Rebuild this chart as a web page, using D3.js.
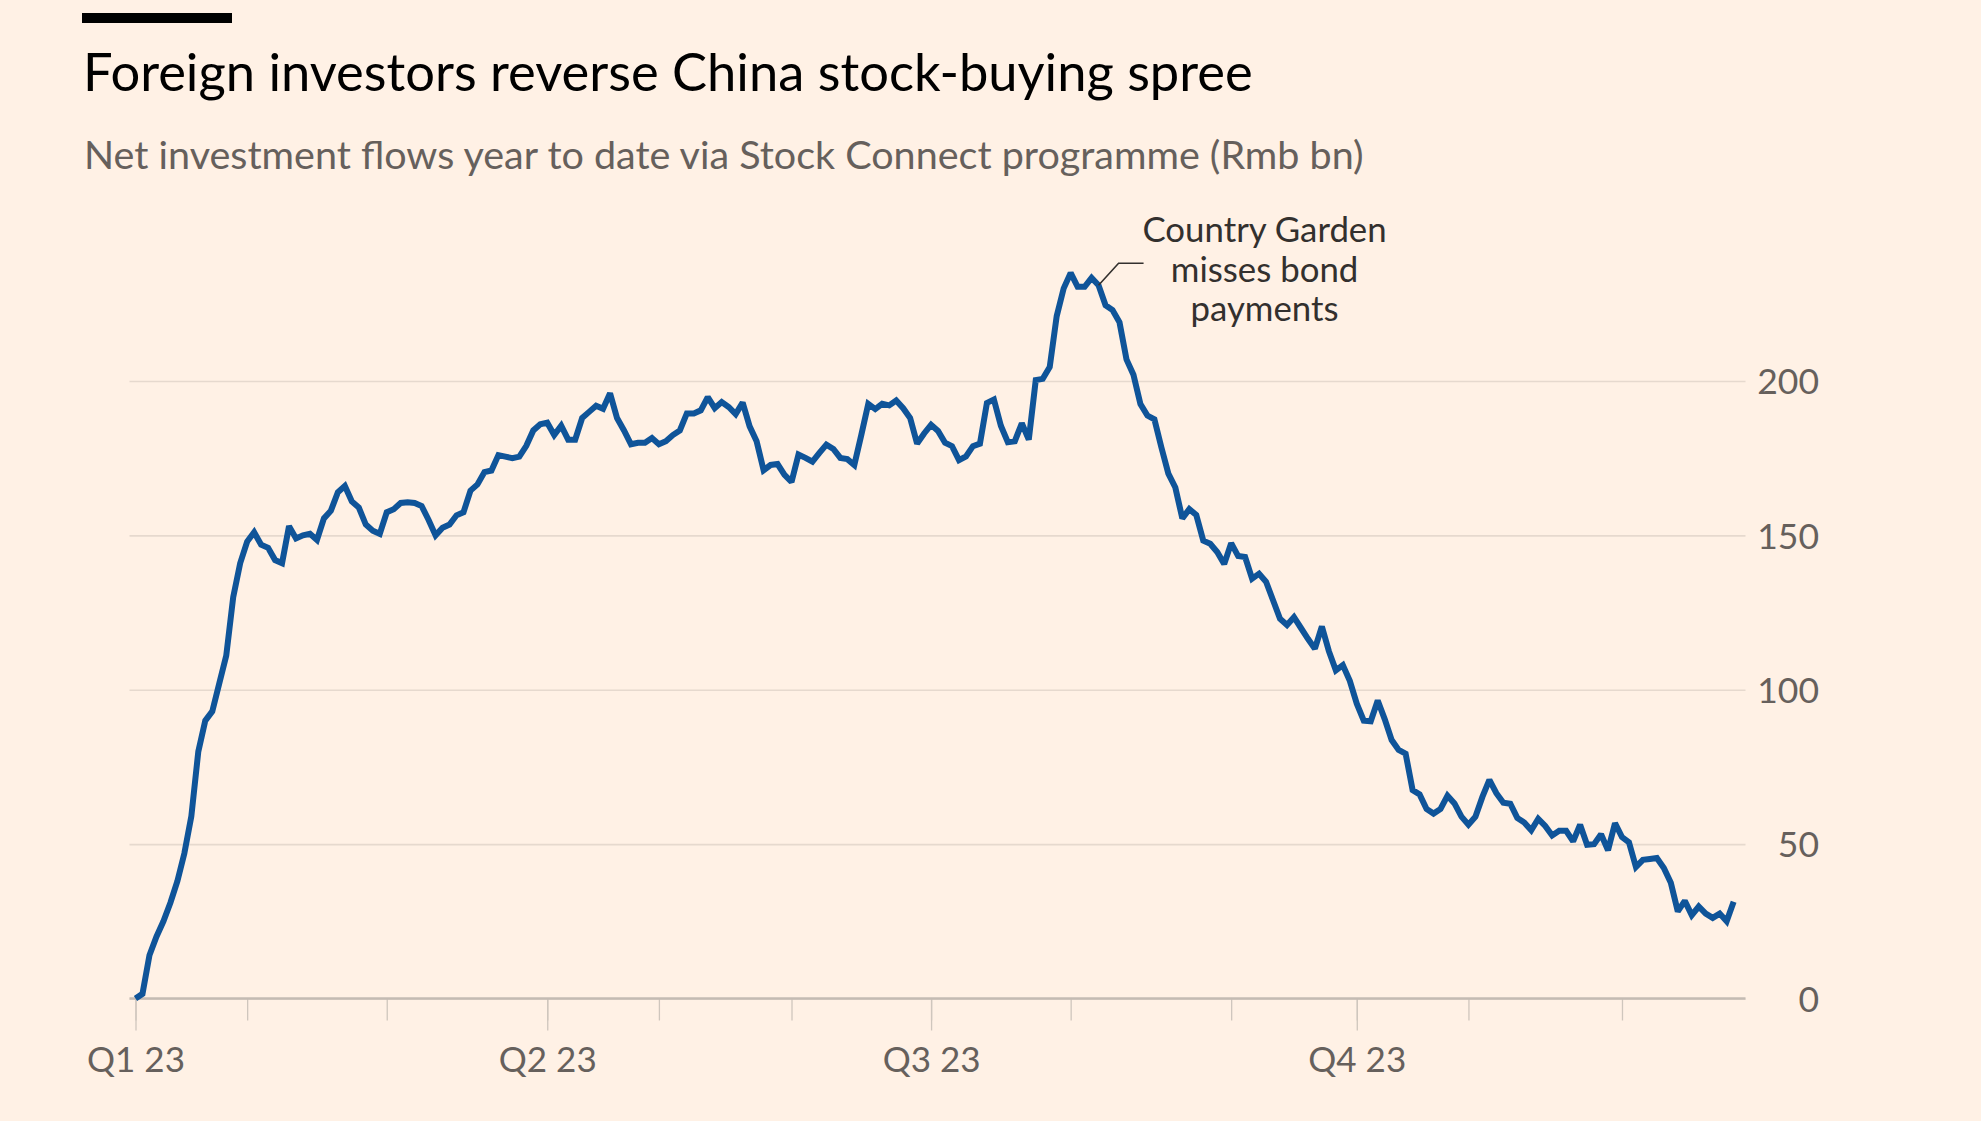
<!DOCTYPE html>
<html><head><meta charset="utf-8">
<script src="https://cdn.jsdelivr.net/npm/d3@7"></script>
<style>
html,body{margin:0;padding:0;background:#fff1e5;}
svg{display:block;}
</style></head><body>
<svg id="chart" width="1981" height="1121"></svg>
<script>
const titleText = "Foreign investors reverse China stock-buying spree";
const subtitleText = "Net investment flows year to date via Stock Connect programme (Rmb bn)";
const annotationLines = ["Country Garden", "misses bond", "payments"];
const annotationIndex = 138;
const annotationValue = 231;
// trading-day index of the first session of each month (Jan..Dec 2023)
const monthStartIndex = [0, 16, 36, 59, 75, 94, 114, 134, 157, 175, 191, 213];
const quarterTickIndex = [0, 59, 114, 175];
const quarterLabels = ["Q1 23", "Q2 23", "Q3 23", "Q4 23"];
const yTickValues = [0, 50, 100, 150, 200];
// cumulative net flows, Rmb bn, one value per trading day
const flows = [
  0, 1.5, 14, 20, 25, 31, 38, 47, 59, 80,
  90, 93, 102, 111, 130, 141, 148, 151, 147, 146,
  142, 141, 153, 149, 150, 150.5, 148.5, 155.5, 158, 164,
  166, 161, 159, 153.5, 151.5, 150.5, 157.5, 158.5, 160.5, 160.7,
  160.5, 159.5, 155, 150, 152.5, 153.5, 156.5, 157.5, 164.5, 166.5,
  170.5, 171, 176, 175.5, 175, 175.5, 179, 184, 186, 186.5,
  182.5, 185.5, 181, 181, 188, 190, 192, 191, 196, 188,
  184, 179.5, 180, 180, 181.5, 179.5, 180.5, 182.5, 184, 189.5,
  189.5, 190.5, 194.8, 191.2, 193.2, 191.6, 189.3, 193, 185.3, 180.5,
  171.1, 172.8, 173.1, 169.6, 167.3, 176.2, 175.1, 173.9, 176.7, 179.4,
  178, 175.1, 174.7, 172.8, 182.5, 192.6, 190.9, 192.6, 192.1, 193.7,
  191.2, 188, 179.7, 183, 185.8, 183.8, 180, 178.9, 174.4, 175.6,
  178.9, 179.7, 192.9, 194, 185.5, 180.2, 180.5, 186.3, 181, 200.3,
  200.7, 204.5, 221, 230, 235, 230.5, 230.5, 233.4, 231, 224.5,
  223, 219, 207, 202, 192.5, 188.8, 187.6, 178.5, 170, 165.5,
  155.5, 158.5, 156.6, 148.3, 147.3, 144.6, 140.7, 147.5, 143.3, 143,
  136, 137.6, 135, 129, 123, 121, 123.5, 120, 116.5, 113.3,
  120.5, 112.5, 106.3, 108, 102.9, 95.5, 90, 89.8, 96.5, 90.5,
  83.7, 80.5, 79.3, 67.5, 66.1, 61.4, 59.9, 61.4, 65.7, 63.2,
  58.9, 56.3, 58.9, 65.3, 70.8, 66.5, 63.4, 63.1, 58.5, 57,
  54.5, 58.2, 55.9, 52.8, 54.3, 54.3, 50.9, 56.3, 49.8, 50,
  53.2, 48, 56.8, 52.3, 50.6, 42.6, 44.9, 45.2, 45.5, 42.3,
  37.5, 28.2, 31.6, 27, 29.8, 27.5, 26.1, 27.5, 25, 31.3
];

const FONT = "Lato, 'Open Sans', sans-serif";
const svg = d3.select("#chart");
svg.append("rect").attr("width", 1981).attr("height", 1121).attr("fill", "#fff1e5");

// header
svg.append("rect").attr("x", 82).attr("y", 13).attr("width", 150).attr("height", 10).attr("fill", "#000");
const title = svg.append("text").attr("x", 83).attr("y", 91)
  .attr("font-family", FONT).attr("font-size", 50).attr("fill", "#000").text(titleText);
const subtitle = svg.append("text").attr("x", 84).attr("y", 169)
  .attr("font-family", FONT).attr("font-size", 36).attr("fill", "#66605c").text(subtitleText);
function fitWidth(sel, target) {
  const w = sel.node().getComputedTextLength();
  if (w > 0) sel.attr("font-size", parseFloat(sel.attr("font-size")) * target / w);
}
fitWidth(title, 1170);
fitWidth(subtitle, 1280);

// scales
const x = d3.scaleLinear().domain([-0.86, 230.7]).range([129.5, 1745.5]);
const y = d3.scaleLinear().domain([0, 200]).range([998.5, 381]);

// gridlines + y labels
const yAxis = d3.axisRight(y).tickValues(yTickValues).tickSize(x.range()[1] - x.range()[0]).tickFormat(d3.format("d"));
const gY = svg.append("g").attr("transform", `translate(${x.range()[0]},0)`).call(yAxis);
gY.select(".domain").remove();
gY.selectAll(".tick line").attr("stroke", "#e6d9ce").attr("stroke-width", 1.6);
gY.selectAll(".tick text")
  .attr("x", 1819 - x.range()[0]).attr("text-anchor", "end").attr("dy", "0.36em")
  .attr("font-family", FONT).attr("font-size", 35.5).attr("fill", "#66605c");

// x axis: minor month ticks
const gXMinor = svg.append("g").attr("transform", `translate(0,${y(0)})`)
  .call(d3.axisBottom(x).tickValues(monthStartIndex).tickSize(22).tickFormat(""));
gXMinor.select(".domain").remove();
gXMinor.selectAll(".tick line").attr("stroke", "#cfc6bd").attr("stroke-width", 1.3);

const gX = svg.append("g").attr("transform", `translate(0,${y(0)})`)
  .call(d3.axisBottom(x).tickValues(quarterTickIndex).tickSize(32)
    .tickFormat((d, i) => quarterLabels[i]));
gX.select(".domain").remove();
gX.selectAll(".tick line").attr("stroke", "#cfc6bd").attr("stroke-width", 1.3);
gX.selectAll(".tick text").attr("y", 73).attr("dy", 0)
  .attr("font-family", FONT).attr("font-size", 35).attr("fill", "#66605c");

// baseline
svg.append("line").attr("x1", x.range()[0]).attr("x2", x.range()[1])
  .attr("y1", y(0)).attr("y2", y(0)).attr("stroke", "#c4bbb3").attr("stroke-width", 2.6);

// line
const line = d3.line().x((d, i) => x(i)).y(d => y(d));
svg.append("path").datum(flows).attr("d", line)
  .attr("fill", "none").attr("stroke", "#0f5499").attr("stroke-width", 6)
  .attr("stroke-linejoin", "miter").attr("stroke-miterlimit", 2);

// annotation
const ax = x(annotationIndex), ay = y(annotationValue);
svg.append("path")
  .attr("d", `M${ax},${ay} L${ax + 20},${ay - 22} L${ax + 45},${ay - 22}`)
  .attr("fill", "none").attr("stroke", "#33302e").attr("stroke-width", 1.6);
const annot = svg.append("text").attr("font-family", FONT).attr("font-size", 34.8)
  .attr("fill", "#33302e").attr("text-anchor", "middle");
annotationLines.forEach((t, i) => {
  annot.append("tspan").attr("x", ax + 166).attr("y", ay - 43 + i * 39.5).text(t);
});
</script>
</body></html>
